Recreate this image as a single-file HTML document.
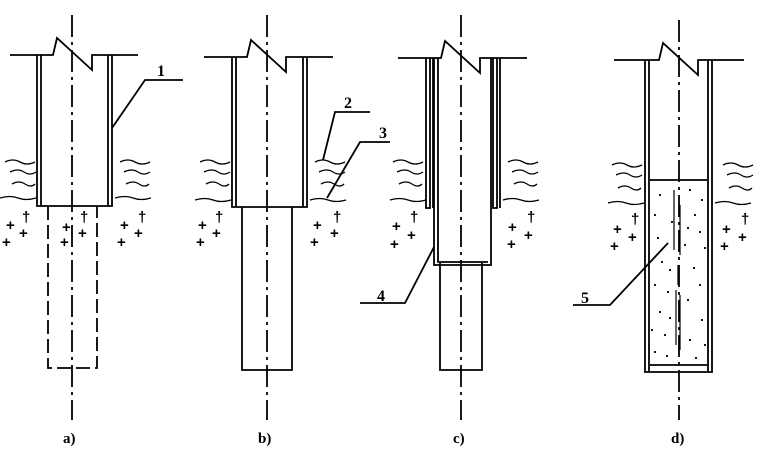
<!DOCTYPE html><html><head><style>body{margin:0;background:#fff}</style></head><body>
<svg width="779" height="463" xmlns="http://www.w3.org/2000/svg" font-family="Liberation Serif, serif" font-weight="bold">
<g stroke="#000" stroke-width="1.8" fill="none">
<!-- a -->
<path d="M10 55H53L57 38L92 70V55H138"/>
<path d="M37 55V206H112V55M41 55V206M108 55V206"/>
<path d="M72 15V420" stroke-dasharray="22 5 3 5"/>
<path d="M48 206V368H97V206" stroke-dasharray="14 5"/>
<path d="M112 128L145 80H183"/>
<!-- b -->
<path d="M204 57H247L251 40L286 72V57H333"/>
<path d="M232 57V207H307V57M236 57V207M303 57V207"/>
<path d="M267 15V420" stroke-dasharray="22 5 3 5"/>
<path d="M242 207V370H292V207"/>
<path d="M323 160L335 112H370M327 198L360 142H390"/>
<!-- c -->
<path d="M398 58H441L445 41L480 73V58H527"/>
<path d="M426 58V208H430V58M433 58V208M493 58V208H497V58M500 58V208"/>
<path d="M434 58V265H491V58M438 58V262H488"/>
<path d="M461 15V420" stroke-dasharray="22 5 3 5"/>
<path d="M440 263V370H482V263"/>
<path d="M434 247L405 303H360"/>
<!-- d -->
<path d="M614 60H659L663 43L698 75V60H744"/>
<path d="M645 60V372H712V60M649 60V372M708 60V372"/>
<path d="M650 180H707M650 365H707"/>
<path d="M679 20V420" stroke-dasharray="22 5 3 5"/>
<path d="M668 243L610 305H573"/>
<path d="M674 190V250M680 205V255M678 265V285M676 290V345M680 295V350" stroke-width="1.2"/>
<!-- waves -->
<g stroke-width="1.3">
<path d="M5 162q8-4 15 0t15 0M10 172q8-4 14 0t12 0M12 184q7-4 13 0t10 0M0 198q10-3 18 0t18 0"/>
<path d="M120 162q8-4 15 0t15 0M124 172q8-4 14 0t12 0M126 184q7-4 13 0t10 0M115 198q10-3 18 0t18 0"/>
<path d="M200 162q8-4 15 0t15 0M204 172q8-4 14 0t12 0M206 184q7-4 13 0t10 0M195 200q10-3 18 0t18 0"/>
<path d="M315 162q8-4 15 0t15 0M319 172q8-4 14 0t12 0M321 184q7-4 13 0t10 0M310 200q10-3 18 0t18 0"/>
<path d="M393 162q8-4 15 0t15 0M397 172q8-4 14 0t12 0M399 184q7-4 13 0t10 0M390 200q10-3 18 0t18 0"/>
<path d="M508 162q8-4 15 0t15 0M512 172q8-4 14 0t12 0M514 184q7-4 13 0t10 0M503 200q10-3 18 0t18 0"/>
<path d="M612 165q8-4 15 0t15 0M616 175q8-4 14 0t12 0M618 188q7-4 13 0t10 0M608 203q10-3 18 0t18 0"/>
<path d="M723 165q8-4 15 0t15 0M727 175q8-4 14 0t12 0M729 188q7-4 13 0t10 0M715 203q10-3 18 0t18 0"/>
</g>
</g>
<g font-size="15" font-weight="bold" font-family="Liberation Sans, sans-serif">
<text x="6" y="230">+</text><text x="22" y="222">†</text><text x="19" y="238">+</text><text x="2" y="247">+</text>
<text x="62" y="232">+</text><text x="80" y="222">†</text><text x="78" y="238">+</text><text x="60" y="247">+</text>
<text x="120" y="230">+</text><text x="138" y="222">†</text><text x="134" y="238">+</text><text x="117" y="247">+</text>
<text x="198" y="230">+</text><text x="215" y="222">†</text><text x="212" y="238">+</text><text x="196" y="247">+</text>
<text x="313" y="230">+</text><text x="333" y="222">†</text><text x="330" y="238">+</text><text x="310" y="247">+</text>
<text x="392" y="231">+</text><text x="410" y="222">†</text><text x="407" y="240">+</text><text x="390" y="249">+</text>
<text x="508" y="232">+</text><text x="527" y="222">†</text><text x="524" y="240">+</text><text x="507" y="249">+</text>
<text x="613" y="234">+</text><text x="631" y="224">†</text><text x="628" y="242">+</text><text x="610" y="251">+</text>
<text x="722" y="234">+</text><text x="741" y="224">†</text><text x="738" y="242">+</text><text x="720" y="251">+</text>
</g>
<g fill="#000">
<circle cx="660" cy="195" r="1.1"/><circle cx="690" cy="190" r="1.1"/><circle cx="702" cy="200" r="1.1"/><circle cx="655" cy="215" r="1.1"/><circle cx="672" cy="222" r="1.1"/><circle cx="695" cy="215" r="1.1"/><circle cx="700" cy="232" r="1.1"/><circle cx="658" cy="238" r="1.1"/><circle cx="685" cy="245" r="1.1"/><circle cx="705" cy="248" r="1.1"/><circle cx="662" cy="262" r="1.1"/><circle cx="670" cy="270" r="1.1"/><circle cx="694" cy="268" r="1.1"/><circle cx="655" cy="285" r="1.1"/><circle cx="668" cy="292" r="1.1"/><circle cx="700" cy="285" r="1.1"/><circle cx="688" cy="300" r="1.1"/><circle cx="660" cy="312" r="1.1"/><circle cx="670" cy="318" r="1.1"/><circle cx="702" cy="320" r="1.1"/><circle cx="665" cy="335" r="1.1"/><circle cx="690" cy="340" r="1.1"/><circle cx="705" cy="345" r="1.1"/><circle cx="655" cy="352" r="1.1"/><circle cx="667" cy="356" r="1.1"/><circle cx="696" cy="358" r="1.1"/><circle cx="688" cy="228" r="1.1"/><circle cx="652" cy="330" r="1.1"/>
</g>
<g font-size="16">
<text x="157" y="76">1</text><text x="344" y="108">2</text><text x="379" y="138">3</text><text x="377" y="301">4</text><text x="581" y="303">5</text>
</g>
<g font-size="15">
<text x="63" y="443">a)</text><text x="258" y="443">b)</text><text x="453" y="443">c)</text><text x="671" y="443">d)</text>
</g>
</svg></body></html>
